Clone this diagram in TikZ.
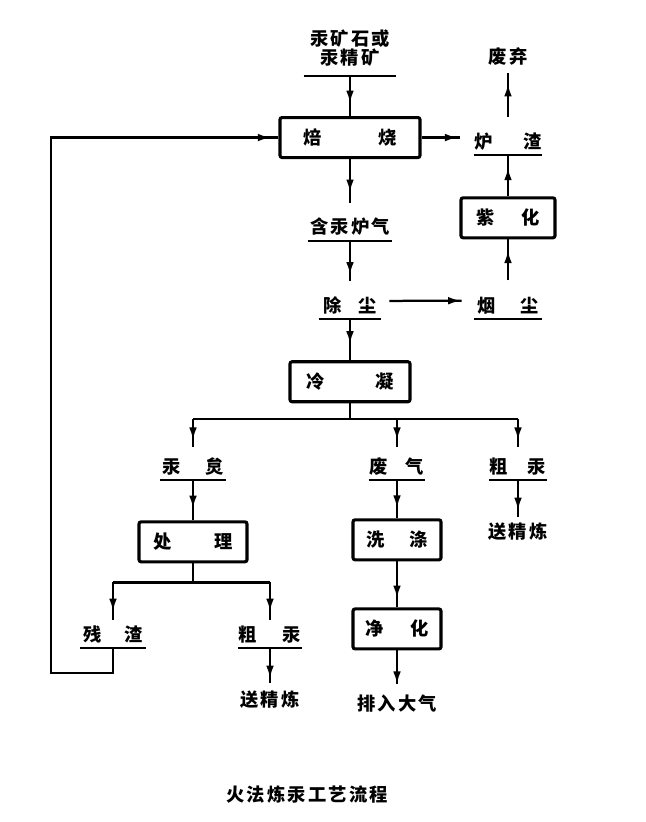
\documentclass[tikz,border=0pt]{standalone}
\usepackage{fontspec}
\setmainfont{Noto Sans CJK SC}[LetterSpace=12]
\usepackage{tikz}
\usetikzlibrary{positioning, arrows.meta, decorations.markings}
\newcommand\twochars[3]{\hbox to #1{#2\hfil #3}}

\begin{document}
\begin{tikzpicture}[
    box/.style={rectangle, draw, line width=2.2pt, rounded corners=1.5pt, minimum width=#1, minimum height=1cm, inner sep=0pt},
    stream/.style={inner xsep=0pt, inner ysep=0.1cm, text height=0.34cm, text depth=0.06cm, minimum width=#1,
        append after command={(\tikzlastnode.south west) edge[rule] (\tikzlastnode.south east)}},
    tag/.style={inner sep=0.1cm, text height=0.34cm, text depth=0.06cm},
    rule/.style={line width=1.5pt},
    link/.style={line width=1.6pt},
    flow/.style={link, postaction={decorate}, decoration={markings, mark=at position #1 with {\arrow{Latex[length=9pt, width=5.5pt]}}}},
    flow/.default=0.7,
    font=\fontsize{13pt}{15pt}\selectfont\bfseries
]
    \useasboundingbox (0,0) rectangle (16.15,-20.55);

    % Main line
    \node (feed) [stream=2.3cm, anchor=south, align=center, text depth=0.18cm] at (8.75,-1.9) {汞矿石或\\[-1.8pt]汞精矿};
    \node (roast) [box=3.5cm, below=1cm of feed] {\twochars{2.33cm}{焙}{烧}};
    \node (gas) [stream=2.1cm, below=1.425cm of roast] {含汞炉气};
    \node (dedust) [stream=1.55cm, below=1.35cm of gas] {\twochars{1.35cm}{除}{尘}};
    \node (cond) [box=3cm, below=1.025cm of dedust] {\twochars{2.2cm}{冷}{凝}};
    \coordinate [below=0.4cm of cond] (split);

    % Slag and dust
    \node (slag) [stream=1.7cm] at (12.7,-3.575) {\twochars{1.7cm}{炉}{渣}};
    \node (waste) [tag, above=1.525cm of slag] {废弃};
    \node (fume) [box=2.35cm, below=1.025cm of slag] {\twochars{1.6cm}{紫}{化}};
    \node (dust) [stream=1.7cm, below=1.375cm of fume] {\twochars{1.55cm}{烟}{尘}};

    % Condensation products
    \node (soot) [stream=1.63cm] at (4.825,-11.7) {\twochars{1.55cm}{汞}{炱}};
    \node (treat) [box=2.7cm, below=1cm of soot] {\twochars{2cm}{处}{理}};
    \coordinate [below=0.475cm of treat] (split2);
    \node (offgas) [stream=1.4cm] at (9.925,-11.7) {\twochars{1.36cm}{废}{气}};
    \node (wash) [box=2.2cm, below=0.95cm of offgas] {\twochars{1.55cm}{洗}{涤}};
    \node (purify) [box=2.2cm, below=1.15cm of wash] {\twochars{1.6cm}{净}{化}};
    \node (vent) [tag, below=1.05cm of purify] {排入大气};
    \node (crude1) [stream=1.42cm] at (12.95,-11.7) {\twochars{1.41cm}{粗}{汞}};
    \node (refine1) [tag, below=1cm of crude1] {送精炼};

    % Soot treatment products
    \node (residue) [stream=1.63cm] at (2.825,-15.9) {\twochars{1.5cm}{残}{渣}};
    \node (crude2) [stream=1.58cm] at (6.75,-15.9) {\twochars{1.56cm}{粗}{汞}};
    \node (refine2) [tag, below=1cm of crude2] {送精炼};
    \coordinate (back) at (1.275,-16.825);

    \node (title) at (7.675,-19.875) {火法炼汞工艺流程};

    % Connections
    \draw [flow=0.68] (feed) -- (roast);
    \draw [flow=0.58, shorten >=0.32cm] (roast) -- (gas);
    \draw [flow=0.63, shorten >=0.35cm] (gas) -- (dedust);
    \draw [flow=0.6] (dedust) -- (cond);
    \draw [link] (cond) -- (split);
    \draw [link] (split -| soot) -- (split -| crude1);
    \draw [flow=0.57, shorten >=0.22cm] (split -| soot) -- (soot);
    \draw [flow=0.57, shorten >=0.22cm] (split -| offgas) -- (offgas);
    \draw [flow=0.57, shorten >=0.22cm] (split -| crude1) -- (crude1);

    \draw [flow=0.69, shorten >=0.35cm] (roast.east) -- (roast.east -| slag.west);
    \draw [flow=0.77, shorten <=0.35cm, shorten >=0.08cm] (slag) -- (waste);
    \draw [flow=0.7] (fume) -- (slag);
    \draw [flow=0.8, shorten <=0.35cm] (dust) -- (fume);
    \draw [flow=0.86, shorten <=0.2cm, shorten >=0.3cm] ([yshift=0.15cm]dedust.east) -- ([yshift=0.15cm]dust.west);

    \draw [flow=0.7] (soot) -- (treat);
    \draw [link] (treat) -- (split2);
    \draw [link] (split2 -| residue) -- (split2 -| crude2);
    \draw [flow=0.7, shorten >=0.1cm] (split2 -| residue) -- (residue);
    \draw [flow=0.7, shorten >=0.1cm] (split2 -| crude2) -- (crude2);
    \draw [flow=0.75, shorten >=0.12cm] (crude2) -- (refine2);
    \draw [flow=-0.2cm] (residue) |- (back) |- (roast.west);

    \draw [flow=0.73] (offgas) -- (wash);
    \draw [flow=0.8] (wash) -- (purify);
    \draw [flow=0.8, shorten >=0.2cm] (purify) -- (vent);
    \draw [flow=0.75, shorten >=0.08cm] (crude1) -- (refine1);
\end{tikzpicture}
\end{document}
